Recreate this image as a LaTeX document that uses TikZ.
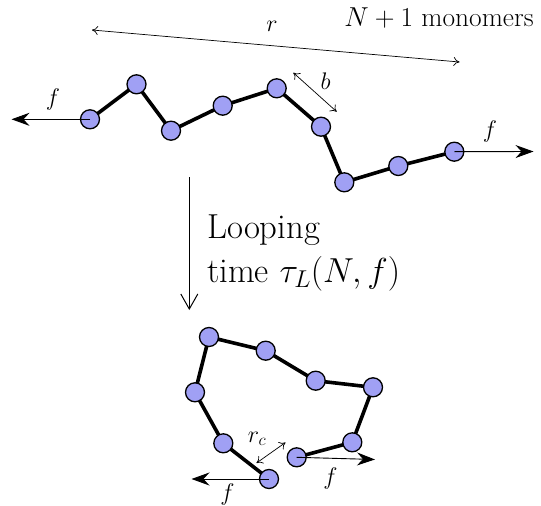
\documentclass[tikz,border=0pt]{standalone}
\usepackage{fix-cm}
\definecolor{bead}{RGB}{160,160,244}
\usetikzlibrary{arrows.meta,backgrounds}
\begin{document}
\begin{tikzpicture}[x=1pt,y=-1pt,font=\fontsize{24}{28}\selectfont,
	mono/.style={circle,draw=black,fill=bead,line width=1.3pt,minimum size=19pt,inner sep=0pt},
	bond/.style={line width=3.6pt},
	force/.style={line width=0.9pt,-{Stealth[length=18pt,width=13pt,inset=6pt]}},
	dist/.style={line width=0.7pt,{To[length=6pt,width=9pt]}-{To[length=6pt,width=9pt]}}]
	\useasboundingbox (0,0) rectangle (541,506);
	\node[mono] (m1) at (90,119.3){};
	\node[mono] (m2) at (136.5,84.3){};
	\node[mono] (m3) at (171,130.7){};
	\node[mono] (m4) at (222.7,105.7){};
	\node[mono] (m5) at (276.7,88.3){};
	\node[mono] (m6) at (321,126.7){};
	\node[mono] (m7) at (344.3,182.3){};
	\node[mono] (m8) at (398.3,166){};
	\node[mono] (m9) at (454.3,151.7){};
	\node[mono] (l1) at (269,479){};
	\node[mono] (l2) at (223.3,443.3){};
	\node[mono] (l3) at (195,392.3){};
	\node[mono] (l4) at (209,337){};
	\node[mono] (l5) at (265.7,350.7){};
	\node[mono] (l6) at (315.7,380.7){};
	\node[mono] (l7) at (373,387.3){};
	\node[mono] (l8) at (352.3,442.3){};
	\node[mono] (l9) at (296.7,457.3){};
	\begin{scope}[on background layer]
		\foreach \a/\b in {1/2,2/3,3/4,4/5,5/6,6/7,7/8,8/9}{
			\draw[bond] (m\a.center)--(m\b.center);
			\draw[bond] (l\a.center)--(l\b.center);
		}
	\end{scope}
	\coordinate (fl) at (11.5,119.3);
	\coordinate (fr) at (533.5,151.5);
	\coordinate (gl) at (191.5,479);
	\coordinate (gr) at (375,459.5);
	\draw[force] (m1.center)--(fl);
	\draw[force] (m9.center)--(fr);
	\draw[force] (l1.center)--(gl);
	\draw[force] (l9.center)--(gr);
	\node (tf1) at (53,99.5){$f$};
	\node (tf2) at (490,131.5){$f$};
	\node (bf1) at (227.5,494.5){$f$};
	\node (bf2) at (330.5,478.5){$f$};
	\coordinate (r1) at (92,30);
	\coordinate (r2) at (459.5,62);
	\draw[dist] (r1)--(r2);
	\node[anchor=base] (rr) at (272,31){$r$};
	\coordinate (b1) at (293.3,72.7);
	\coordinate (b2) at (336.7,111.7);
	\draw[dist] (b1)--(b2);
	\node (bb) at (325.5,81.5){$b$};
	\coordinate (c1) at (256.5,463);
	\coordinate (c2) at (285.5,442.5);
	\draw[dist] (c1)--(c2);
	\node (rc) at (257,439){$r_c$};
	\node[anchor=base,font=\fontsize{27.4}{32}\selectfont] (nm) at (439,27){$N+1$ monomers};
	\coordinate (v1) at (189.3,177.3);
	\coordinate (v2) at (189.3,310);
	\draw[line width=1pt,-{Straight Barb[length=15pt,width=17pt]}] (v1)--(v2);
	\node[anchor=west,align=left,inner sep=0pt,font=\fontsize{34.7}{44}\selectfont] (lt) at (207,252.5){Looping\\time $\tau_L(N,f)$};
\end{tikzpicture}
\end{document}
